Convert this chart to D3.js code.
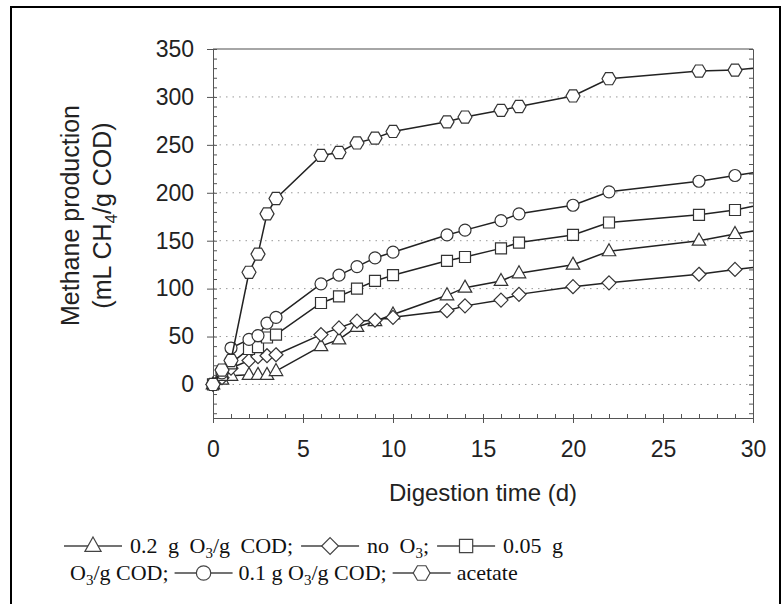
<!DOCTYPE html>
<html>
<head>
<meta charset="utf-8">
<script src="https://cdn.jsdelivr.net/npm/d3@7"></script>
<style>
  body { margin: 0; background: #fff; }
  svg { display: block; }
</style>
</head>
<body>
<svg id="chart"></svg>
<script>
// digestion days where methane was measured
var days = [0, 0.5, 1, 2, 2.5, 3, 3.5, 6, 7, 8, 9, 10, 13, 14, 16, 17, 20, 22, 27, 29, 30];

// cumulative methane, mL CH4/g COD
var ozone02 = [0, 5, 9, 10, 10, 10, 14, 40, 47, 60, 66, 73, 93, 101, 108, 116, 125, 139, 150, 157, 160];
var noOzone = [0, 7, 17, 25, 29, 30, 31, 52, 59, 66, 67, 70, 77, 82, 88, 94, 102, 106, 115, 120, 122];
var ozone005 = [0, 10, 22, 37, 39, 49, 52, 85, 92, 100, 108, 114, 129, 133, 142, 148, 156, 169, 177, 182, 186];
var ozone01 = [0, 12, 38, 47, 51, 64, 70, 105, 114, 123, 132, 138, 156, 161, 171, 178, 187, 201, 212, 218, 221];
var acetate = [0, 15, 25, 117, 136, 178, 194, 239, 242, 252, 257, 264, 274, 279, 286, 290, 301, 319, 327, 328, 330];

var seriesValues = [ozone02, noOzone, ozone005, ozone01, acetate];
var seriesShapes = ['triangle', 'diamond', 'square', 'circle', 'hexagon'];

var xTicks = [0, 5, 10, 15, 20, 25, 30];
var yTicks = [0, 50, 100, 150, 200, 250, 300, 350];

// legend text, "_" marks a subscript digit
var legendRow1 = [
  { shape: 'triangle' }, { text: '0.2 g O_3/g COD;' },
  { shape: 'diamond' }, { text: 'no O_3;' },
  { shape: 'square' }, { text: '0.05 g' }
];
var legendRow2 = [
  { text: 'O_3/g COD;' },
  { shape: 'circle' }, { text: '0.1 g O_3/g COD;' },
  { shape: 'hexagon' }, { text: 'acetate' }
];

var W = 782, H = 604;
var margin = { top: 49, right: 29, bottom: 186, left: 213 },
  width = W - margin.left - margin.right,
  height = H - margin.top - margin.bottom;

var sansFont = '"Liberation Sans", Arial, Helvetica, sans-serif';
var serifFont = '"Liberation Serif", "Times New Roman", Times, serif';

var svg = d3.select('#chart').attr('width', W).attr('height', H);

// outer frame of the figure
svg.append('rect')
  .attr('x', 11).attr('y', 7)
  .attr('width', 769).attr('height', 620)
  .attr('fill', 'none')
  .attr('stroke', '#000')
  .attr('stroke-width', 2);

var g = svg.append('g')
  .attr('transform', 'translate(' + margin.left + ',' + margin.top + ')');

var x = d3.scaleLinear().domain([0, 30]).range([0, width]);
var y = d3.scaleLinear().domain([-35, 350]).range([height, 0]);

// dotted horizontal grid
g.append('g')
  .selectAll('line')
  .data(yTicks.slice(0, -1))
  .enter().append('line')
  .attr('x1', 0).attr('x2', width)
  .attr('y1', function (d) { return y(d); })
  .attr('y2', function (d) { return y(d); })
  .attr('stroke', '#999')
  .attr('stroke-width', 1)
  .attr('stroke-dasharray', '1.5,5');

// top border of the plot
g.append('line')
  .attr('x1', 0).attr('x2', width)
  .attr('y1', 0).attr('y2', 0)
  .attr('stroke', '#888')
  .attr('stroke-width', 1.5);

var styleAxis = function (sel) {
  sel.select('.domain').attr('stroke', '#555');
  sel.selectAll('.tick line').attr('stroke', '#555');
  sel.selectAll('text')
    .attr('fill', '#222')
    .style('font-family', sansFont)
    .style('font-size', '23px');
};

// minor ticks point inward, majors outward
g.append('g')
  .call(d3.axisLeft(y).tickValues(d3.range(-30, 351, 10)).tickSize(-4).tickFormat(''))
  .call(styleAxis);
g.append('g')
  .call(d3.axisLeft(y).tickValues(yTicks).tickSize(6).tickPadding(13).tickSizeOuter(0))
  .call(styleAxis);
g.append('g')
  .attr('transform', 'translate(' + width + ',0)')
  .call(d3.axisRight(y).tickValues(d3.range(-30, 351, 10)).tickSize(-4).tickFormat(''))
  .call(styleAxis);
g.append('g')
  .attr('transform', 'translate(0,' + height + ')')
  .call(d3.axisBottom(x).tickValues(d3.range(0, 31, 1)).tickSize(-4).tickFormat(''))
  .call(styleAxis);
g.append('g')
  .attr('transform', 'translate(0,' + height + ')')
  .call(d3.axisBottom(x).tickValues(xTicks).tickSize(5).tickPadding(18).tickSizeOuter(0))
  .call(styleAxis);

// axis titles
g.append('text')
  .attr('x', width / 2)
  .attr('y', height + 83)
  .attr('text-anchor', 'middle')
  .style('font-family', sansFont)
  .style('font-size', '24px')
  .attr('fill', '#222')
  .text('Digestion time (d)');

var yTitle = g.append('text')
  .attr('transform', 'translate(-134,' + (height / 2 - 18) + ') rotate(-90)')
  .attr('text-anchor', 'middle')
  .style('font-family', sansFont)
  .style('font-size', '25px')
  .attr('fill', '#222');
yTitle.append('tspan').attr('x', 0).attr('dy', 0).text('Methane production');
var yt2 = yTitle.append('tspan').attr('x', 0).attr('dy', 32);
yt2.append('tspan').text('(mL CH');
yt2.append('tspan').attr('dy', 6).style('font-size', '17px').text('4');
yt2.append('tspan').attr('dy', -6).text('/g COD)');

// marker shapes
var shapePath = function (shape, s) {
  var k = s || 1, pts;
  if (shape === 'circle') {
    var r = 6 * k;
    return 'M' + (-r) + ',0A' + r + ',' + r + ' 0 1,0 ' + r + ',0A' + r + ',' + r + ' 0 1,0 ' + (-r) + ',0Z';
  }
  if (shape === 'square') {
    var h = 5.5 * k;
    pts = [[-h, -h], [h, -h], [h, h], [-h, h]];
  } else if (shape === 'diamond') {
    var d = 7 * k;
    pts = [[0, -d], [d, 0], [0, d], [-d, 0]];
  } else if (shape === 'triangle') {
    var t = 7.5 * k;
    pts = [[0, -t], [t * 0.9, t * 0.6], [-t * 0.9, t * 0.6]];
  } else {
    var hr = 7 * k;
    pts = d3.range(6).map(function (i) {
      var a = i * Math.PI / 3;
      return [hr * Math.cos(a), hr * Math.sin(a)];
    });
  }
  return 'M' + pts.map(function (p) { return p[0].toFixed(2) + ',' + p[1].toFixed(2); }).join('L') + 'Z';
};

var line = d3.line()
  .x(function (d) { return x(d[0]); })
  .y(function (d) { return y(d[1]); });

var series = g.selectAll('.series')
  .data(seriesValues.map(function (vals, i) {
    return {
      shape: seriesShapes[i],
      points: days.map(function (day, j) { return [day, vals[j]]; })
    };
  }))
  .enter().append('g')
  .attr('class', 'series');

series.append('path')
  .attr('d', function (d) { return line(d.points); })
  .attr('fill', 'none')
  .attr('stroke', '#222')
  .attr('stroke-width', 1.5);

series.selectAll('.marker')
  .data(function (d) {
    return d.points.filter(function (p) { return p[0] < 30; })
      .map(function (p) { return { shape: d.shape, p: p }; });
  })
  .enter().append('path')
  .attr('class', 'marker')
  .attr('transform', function (d) { return 'translate(' + x(d.p[0]) + ',' + y(d.p[1]) + ')'; })
  .attr('d', function (d) { return shapePath(d.shape); })
  .attr('fill', '#fff')
  .attr('stroke', '#333')
  .attr('stroke-width', 1.2);

// legend rows in serif type, laid out left to right
var drawLegendRow = function (items, x0, yBase, gap, wordSpace) {
  var row = svg.append('g');
  var cx = x0;
  items.forEach(function (it) {
    if (it.shape) {
      row.append('line')
        .attr('x1', cx).attr('x2', cx + 58)
        .attr('y1', yBase - 7).attr('y2', yBase - 7)
        .attr('stroke', '#444').attr('stroke-width', 1.3);
      row.append('path')
        .attr('transform', 'translate(' + (cx + 29) + ',' + (yBase - 7) + ')')
        .attr('d', shapePath(it.shape, 1.2))
        .attr('fill', '#fff')
        .attr('stroke', '#444')
        .attr('stroke-width', 1.2);
      cx += 58 + gap;
    } else {
      var t = row.append('text')
        .attr('x', cx).attr('y', yBase)
        .style('font-family', serifFont)
        .style('font-size', '22px')
        .style('word-spacing', wordSpace + 'px')
        .attr('fill', '#111');
      var shift = 0;
      it.text.split(/(_\d)/).forEach(function (part) {
        if (!part) return;
        if (part.charAt(0) === '_') {
          t.append('tspan').attr('dy', 5).style('font-size', '15px').text(part.slice(1));
          shift = -5;
        } else {
          t.append('tspan').attr('dy', shift).text(part);
          shift = 0;
        }
      });
      cx += t.node().getComputedTextLength() + gap;
    }
  });
};

drawLegendRow(legendRow1, 64, 553, 8, 5);
drawLegendRow(legendRow2, 70, 580, 6, 0);
</script>
</body>
</html>
